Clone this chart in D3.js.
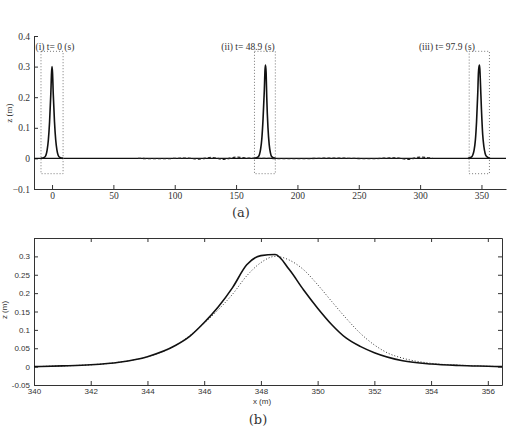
<!DOCTYPE html>
<html lang="en">
<head>
<meta charset="UTF-8">
<title>Solitary wave propagation</title>
<script src="https://d3js.org/d3.v7.min.js"></script>
<style>
  body { margin: 0; background: #fff; }
  svg { display: block; }
  .tick text { font-family: "Liberation Serif", serif; fill: #333; }
  .bot .tick text { font-family: "Liberation Sans", sans-serif; }
  .domain, .tick line { stroke: #333; }
</style>
</head>
<body>
<svg id="chart" width="519" height="426"></svg>
<script>
// ---- data: top panel (a) ----
const topXTicks = [0, 50, 100, 150, 200, 250, 300, 350];
const topYTicks = [-0.1, 0, 0.1, 0.2, 0.3, 0.4];
const peak1 = [[-9,0],[-6,0.004],[-5,0.01],[-4,0.027],[-3,0.06],[-2,0.12],[-1,0.21],[-0.4,0.28],[0,0.3],[0.4,0.28],[1,0.21],[2,0.12],[3,0.06],[4,0.027],[5,0.01],[6,0.004],[9,0]];
const peak2 = [[165,0],[168,0.005],[169,0.012],[170,0.03],[171,0.065],[172,0.13],[173,0.22],[173.6,0.29],[174,0.305],[174.5,0.28],[175,0.2],[176,0.1],[177,0.045],[178,0.018],[179,0.006],[182,0]];
const peak3 = [[339,0],[342,0.005],[343,0.012],[344,0.027],[345,0.058],[346,0.12],[347,0.215],[347.5,0.277],[348,0.3],[348.5,0.305],[349,0.264],[350,0.159],[351,0.078],[352,0.038],[353,0.016],[354,0.007],[357,0]];
const tail = [[70,0],[90,-0.001],[110,0.001],[120,-0.002],[130,0.003],[140,-0.003],[150,0.004],[160,0.001],[175,0],[200,-0.001],[230,0.001],[260,-0.001],[280,0.002],[290,-0.003],[300,0.004],[310,0.001]];
const boxes = [[-9, 9], [165, 182], [340, 356.5]];
const boxZ = [-0.05, 0.35];
const labels = ["(i) t= 0 (s)", "(ii) t= 48.9 (s)", "(iii) t= 97.9 (s)"];
const labelX = [-13.5, 138, 299];

// ---- data: bottom panel (b) ----
const botXTicks = [340, 342, 344, 346, 348, 350, 352, 354, 356];
const botYTicks = [-0.05, 0, 0.05, 0.1, 0.15, 0.2, 0.25, 0.3];
const solidX = [340, 341, 342, 343, 344, 345, 345.5, 346, 346.5, 347, 347.5, 348, 348.5, 349, 349.5, 350, 350.5, 351, 351.5, 352, 353, 354, 355, 356, 356.5];
const solidZ = [0, 0.002, 0.005, 0.012, 0.027, 0.058, 0.083, 0.12, 0.163, 0.215, 0.277, 0.302, 0.305, 0.264, 0.209, 0.159, 0.114, 0.078, 0.055, 0.038, 0.016, 0.007, 0.003, 0.001, 0];
const dotX = [340, 341, 342, 343, 344, 345, 346, 346.5, 347, 347.5, 348, 348.5, 349, 349.5, 350, 350.5, 351, 351.5, 352, 352.5, 353, 354, 355, 356, 356.5];
const dotZ = [0, 0.002, 0.005, 0.012, 0.027, 0.058, 0.118, 0.155, 0.197, 0.247, 0.283, 0.3, 0.29, 0.264, 0.223, 0.177, 0.132, 0.091, 0.059, 0.036, 0.023, 0.009, 0.004, 0.001, 0];

const svg = d3.select("#chart");

// ---------- panel (a) ----------
const xA = d3.scaleLinear().domain([-14.7, 370]).range([34, 506]);
const yA = d3.scaleLinear().domain([-0.1, 0.4]).range([189, 36]);
const gA = svg.append("g");

gA.append("g").attr("transform", "translate(0,189)")
  .call(d3.axisBottom(xA).tickValues(topXTicks).tickSizeInner(-4).tickSizeOuter(0).tickPadding(3))
  .call(g => g.selectAll("text").attr("font-size", 9.5));
gA.append("g").attr("transform", "translate(34,0)")
  .call(d3.axisLeft(yA).tickValues(topYTicks).tickSizeInner(-4).tickSizeOuter(0).tickPadding(4)
    .tickFormat(d => d === 0 ? "0" : d3.format(".1f")(d).replace("-", "\u2212")))
  .call(g => g.selectAll("text").attr("font-size", 9.5));

// zero line
gA.append("line").attr("x1", xA(-14.7)).attr("x2", xA(370))
  .attr("y1", yA(0)).attr("y2", yA(0)).attr("stroke", "#111").attr("stroke-width", 1.2);

// dotted boxes
boxes.forEach(b => {
  gA.append("rect").attr("x", xA(b[0])).attr("y", yA(boxZ[1]))
    .attr("width", xA(b[1]) - xA(b[0])).attr("height", yA(boxZ[0]) - yA(boxZ[1]))
    .attr("fill", "none").attr("stroke", "#777").attr("stroke-width", 1).attr("stroke-dasharray", "1,2");
});

const lineA = d3.line().x(d => xA(d[0])).y(d => yA(d[1])).curve(d3.curveMonotoneX);
[peak1, peak2, peak3].forEach(p => {
  gA.append("path").attr("d", lineA(p)).attr("fill", "none").attr("stroke", "#111").attr("stroke-width", 1.6);
});
gA.append("path").attr("d", lineA(tail)).attr("fill", "none").attr("stroke", "#222")
  .attr("stroke-width", 1.3).attr("stroke-dasharray", "3,2");

labels.forEach((t, i) => {
  gA.append("text").attr("x", xA(labelX[i])).attr("y", 50)
    .attr("font-family", "Liberation Serif, serif").attr("font-size", 9.5).attr("fill", "#333").text(t);
});

gA.append("text").attr("transform", "translate(12,113) rotate(-90)").attr("text-anchor", "middle")
  .attr("font-family", "Liberation Serif, serif").attr("font-size", 9).attr("fill", "#333").text("z (m)");
gA.append("text").attr("x", 241).attr("y", 217).attr("text-anchor", "middle")
  .attr("font-family", "DejaVu Serif, serif").attr("font-size", 13).attr("fill", "#333").text("(a)");

// ---------- panel (b) ----------
const xB = d3.scaleLinear().domain([340, 356.5]).range([34, 502]);
const yB = d3.scaleLinear().domain([-0.05, 0.35]).range([385, 238]);
const gB = svg.append("g").attr("class", "bot");

gB.append("g").attr("transform", "translate(0,385)")
  .call(d3.axisBottom(xB).tickValues(botXTicks).tickSizeInner(-4).tickSizeOuter(0).tickPadding(3))
  .call(g => g.selectAll("text").attr("font-size", 8));
gB.append("g").attr("transform", "translate(0,238)")
  .call(d3.axisTop(xB).tickValues(botXTicks).tickSizeInner(-4).tickSizeOuter(0).tickFormat(""));
gB.append("g").attr("transform", "translate(34,0)")
  .call(d3.axisLeft(yB).tickValues(botYTicks).tickSizeInner(-4).tickSizeOuter(0).tickPadding(4)
    .tickFormat(d => d === 0 ? "0" : String(+d.toFixed(2))))
  .call(g => g.selectAll("text").attr("font-size", 8));
gB.append("g").attr("transform", "translate(502,0)")
  .call(d3.axisRight(yB).tickValues(botYTicks).tickSizeInner(-4).tickSizeOuter(0).tickFormat(""));

const lineB = d3.line().x(d => xB(d[0])).y(d => yB(d[1])).curve(d3.curveMonotoneX);
gB.append("path").attr("d", lineB(dotX.map((x, i) => [x, dotZ[i]])))
  .attr("fill", "none").attr("stroke", "#333").attr("stroke-width", 1).attr("stroke-dasharray", "1,2");
gB.append("path").attr("d", lineB(solidX.map((x, i) => [x, solidZ[i]])))
  .attr("fill", "none").attr("stroke", "#111").attr("stroke-width", 1.6);

gB.append("text").attr("transform", "translate(7,310) rotate(-90)").attr("text-anchor", "middle")
  .attr("font-family", "Liberation Sans, sans-serif").attr("font-size", 8).attr("fill", "#333").text("z (m)");
gB.append("text").attr("x", 262).attr("y", 404).attr("text-anchor", "middle")
  .attr("font-family", "Liberation Sans, sans-serif").attr("font-size", 8).attr("fill", "#333").text("x (m)");
gB.append("text").attr("x", 258).attr("y", 424).attr("text-anchor", "middle")
  .attr("font-family", "DejaVu Serif, serif").attr("font-size", 13).attr("fill", "#333").text("(b)");
</script>
</body>
</html>
